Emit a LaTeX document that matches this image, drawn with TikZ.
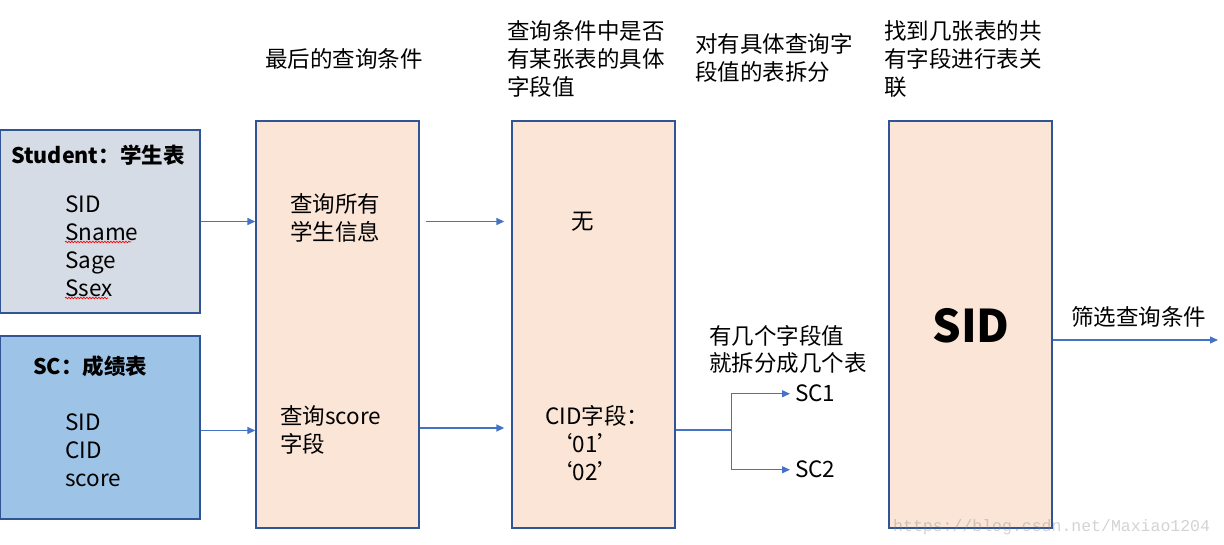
\documentclass[tikz,border=0pt]{standalone}
\usepackage{fontspec}
\setmainfont{Noto Sans CJK SC}
\newfontfamily\wmfont{Liberation Mono}
\usetikzlibrary{arrows.meta,calc,decorations.pathmorphing}
\definecolor{bordblue}{HTML}{2F5597}
\definecolor{arrblue}{HTML}{4472C4}
\definecolor{stufill}{HTML}{D6DCE5}
\definecolor{scfill}{HTML}{9DC3E6}
\definecolor{peach}{HTML}{FBE5D6}
\tikzset{
  box/.style={draw=bordblue, line width=1.3pt, inner sep=0pt, rectangle},
  tall/.style={box, fill=peach, minimum width=163pt, minimum height=407pt},
  conn/.style={draw=arrblue, line width=1.3pt, -{Triangle[length=8pt,width=7pt]}},
  plain/.style={draw=arrblue, line width=1.3pt},
  txt/.style={inner sep=0pt, anchor=base west, align=left, font=\fontsize{22.5}{28}\selectfont},
  squig/.style={draw=red, line width=0.7pt, decorate, decoration={snake, segment length=3pt, amplitude=0.8pt}}
}
\begin{document}
\begin{tikzpicture}[x=1pt,y=-1pt]
\useasboundingbox (0,0) rectangle (1224,545);
% boxes
\node[box, fill=stufill, minimum width=200pt, minimum height=183pt] (stu) at (100,221.5) {};
\node[box, fill=scfill, minimum width=200pt, minimum height=183pt] (sc) at (100,427.5) {};
\node[tall] (q) at (337.5,324.5) {};
\node[tall] (f) at (593.5,324.5) {};
\node[tall] (sid) at (970.5,324.5) {};
% header texts (anchor: baseline of last line)
\node[txt] (h1) at (265,68) {最后的查询条件};
\node[txt] (h2) at (507,96) {查询条件中是否\\有某张表的具体\\字段值};
\node[txt] (h3) at (695,81) {对有具体查询字\\段值的表拆分};
\node[txt] (h4) at (884,96) {找到几张表的共\\有字段进行表关\\联};
% table contents
\node[txt, font=\bfseries\fontsize{21.5}{28}\selectfont] (stut) at (11,164) {Student：学生表};
\node[txt] (stul) at (65,297) {SID\\Sname\\Sage\\Ssex};
\node[txt, font=\bfseries\fontsize{21.5}{28}\selectfont] (sct) at (33,374) {SC：成绩表};
\node[txt] (scl) at (65,486) {SID\\CID\\score};
\draw[squig] (65,242) -- (131,242);
\draw[squig] (65,298) -- (108,298);
% box contents
\node[txt] (q1) at (290,241) {查询所有\\学生信息};
\node[txt] (q2) at (280,452) {查询score\\字段};
\node[txt] (f1) at (571,230) {无};
\node[txt] (f2) at (545,480) {CID字段：\\\hspace{5pt}‘01’\\\hspace{5pt}‘02’};
\node[txt] (sp) at (709,372) {有几个字段值\\就拆分成几个表};
\node[txt] (sc1) at (795,401) {SC1};
\node[txt] (sc2) at (795,477) {SC2};
\node[inner sep=0pt, anchor=base, font=\bfseries\fontsize{45}{50}\selectfont] (sidt) at (971,343) {SID};
\node[txt] (filt) at (1071,326) {筛选查询条件};
% connectors
\draw[conn] (stu.east) -- (stu.east -| q.west);
\draw[conn] ($(sc.east)+(0,3)$) -- ($(sc.east -| q.west)+(0,3)$);
\draw[conn, shorten <=6pt, shorten >=7pt] (q.east |- stu.east) -- (f.west |- stu.east);
\draw[conn, shorten >=7pt] ($(q.east)+(0,103.5)$) -- ($(f.west)+(0,103.5)$);
\coordinate (j) at ($(f.east)+(56,105.5)$);
\draw[plain] ($(f.east)+(0,105.5)$) -- (j);
\draw[conn] (j) |- ([xshift=-5pt,yshift=-1pt]sc1.west);
\draw[conn] (j) |- ([xshift=-5pt,yshift=-1pt]sc2.west);
\coordinate (out) at (1218,340);
\draw[conn] (sid.east |- out) -- (out);
% watermark
\node[inner sep=0pt, anchor=base west, text=gray, opacity=0.35, font=\wmfont\fontsize{16.5}{18}\selectfont] (wm) at (893,531) {https://blog.csdn.net/Maxiao1204};
\end{tikzpicture}
\end{document}
